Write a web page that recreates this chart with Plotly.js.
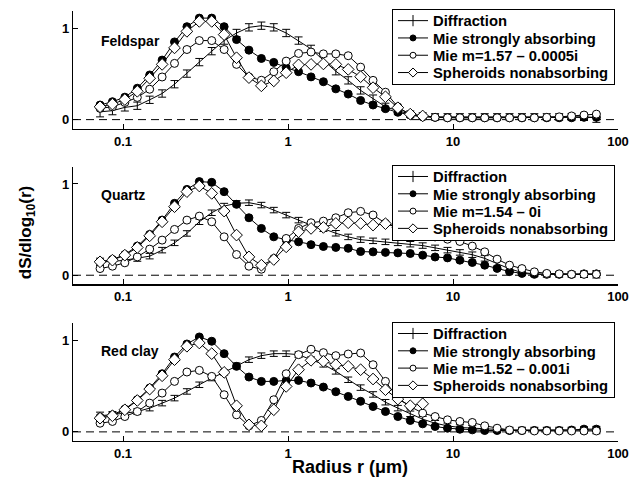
<!DOCTYPE html>
<html>
<head>
<meta charset="utf-8">
<script src="https://cdn.plot.ly/plotly-3.0.1.min.js"></script>
<style>html,body{margin:0;padding:0;background:#fff;}#chart{width:643px;height:488px;}</style>
</head>
<body>
<div id="chart"></div>
<script>
// Radius grid (um)
const radius = [0.0726,0.0863,0.1026,0.1221,0.1451,0.1726,0.2052,0.2440,0.2901,0.3449,
  0.4102,0.4877,0.5799,0.6896,0.8200,0.9750,1.159,1.379,1.639,1.949,
  2.317,2.755,3.277,3.896,4.633,5.508,6.550,7.789,9.262,11.01,
  13.09,15.57,18.51,22.01,26.18,31.12,37.01,44.01,52.33,62.23,73.96];

const seriesNames = ["Diffraction","Mie strongly absorbing","Mie m","Spheroids nonabsorbing"];
const panelNames = ["Feldspar","Quartz","Red clay"];
const mieLabels = ["Mie m=1.57 \u2013 0.0005i","Mie m=1.54 \u2013 0i","Mie m=1.52 \u2013 0.001i"];

// Feldspar
const feldDiff = [0.085,0.098,0.134,0.152,0.217,0.286,0.388,0.504,0.63,0.75,0.866,0.949,1.011,1.029,1.011,0.949,0.866,0.775,0.65,0.53,0.43,0.32,0.23,0.14,0.098,0.06,0.04,0.03,0.03,0.03,0.03,0.03,0.03,0.03,0.03,0.03,0.03,0.03,0.03,0.03,0.02];
const feldDiffErr = [0.055,0.045,0.04,0.04,0.04,0.04,0.04,0.04,0.04,0.04,0.04,0.04,0.04,0.04,0.04,0.04,0.04,0.04,0.04,0.04,0.04,0.04,0.04,0.04,0.04,0.035,0.035,0.035,0.035,0.035,0.035,0.035,0.035,0.035,0.035,0.035,0.035,0.035,0.035,0.04,0.05];
const feldAbs = [0.16,0.196,0.246,0.344,0.489,0.652,0.851,1.018,1.112,1.112,1.018,0.877,0.761,0.67,0.627,0.569,0.525,0.468,0.415,0.337,0.28,0.21,0.16,0.12,0.08,0.05,0.035,0.025,0.02,0.02,0.02,0.02,0.02,0.02,0.02,0.02,0.02,0.02,0.02,0.025,0.025];
const feldMie = [0.123,0.141,0.188,0.243,0.333,0.467,0.616,0.768,0.866,0.866,0.768,0.605,0.467,0.431,0.525,0.641,0.725,0.74,0.72,0.72,0.70,0.575,0.43,0.30,0.14,0.05,0.03,0.025,0.02,0.02,0.02,0.02,0.02,0.02,0.02,0.02,0.025,0.03,0.04,0.05,0.06];
const feldSph = [0.14,0.17,0.22,0.31,0.453,0.605,0.786,0.967,1.076,1.076,0.931,0.678,0.46,0.37,0.424,0.514,0.6,0.605,0.61,0.605,0.55,0.47,0.35,0.25,0.13,0.06,0.04];

// Quartz
const quartzDiff = [0.147,0.15,0.165,0.183,0.209,0.275,0.355,0.458,0.586,0.685,0.758,0.788,0.795,0.769,0.714,0.659,0.604,0.549,0.51,0.46,0.42,0.39,0.377,0.366,0.355,0.34,0.325,0.3,0.275,0.25,0.225,0.185,0.13,0.07,0.03,0.015,0.01,0.01,0.01,0.01,0.01];
const quartzDiffErr = [0.04,0.035,0.03,0.03,0.03,0.03,0.03,0.03,0.03,0.03,0.03,0.03,0.03,0.03,0.03,0.03,0.03,0.03,0.03,0.03,0.03,0.03,0.03,0.03,0.03,0.03,0.03,0.03,0.03,0.03,0.03,0.03,0.03,0.03,0.03,0.03,0.03,0.03,0.03,0.035,0.04];
const quartzAbs = [0.147,0.172,0.227,0.319,0.447,0.604,0.788,0.941,1.026,1.018,0.916,0.777,0.63,0.513,0.421,0.39,0.366,0.335,0.315,0.305,0.295,0.26,0.256,0.25,0.245,0.238,0.22,0.2,0.19,0.165,0.14,0.11,0.075,0.04,0.02,0.01,0.01,0.01,0.01,0.015,0.015];
const quartzMie = [0.073,0.099,0.136,0.201,0.286,0.385,0.502,0.604,0.648,0.586,0.421,0.227,0.099,0.066,0.183,0.403,0.513,0.575,0.593,0.63,0.685,0.70,0.66,0.57,0.53,0.49,0.45,0.42,0.395,0.37,0.319,0.256,0.176,0.11,0.073,0.037,0.02,0.015,0.01,0.01,0.01];
const quartzSph = [0.147,0.165,0.22,0.304,0.432,0.586,0.751,0.916,0.978,0.897,0.703,0.44,0.201,0.11,0.172,0.311,0.476,0.513,0.524,0.568,0.575,0.568,0.55,0.565,0.52,0.48,0.45];

// Red clay
const clayDiff = [0.176,0.187,0.205,0.223,0.26,0.315,0.37,0.443,0.516,0.59,0.652,0.725,0.791,0.835,0.857,0.857,0.846,0.791,0.74,0.663,0.571,0.485,0.41,0.325,0.26,0.198,0.139,0.095,0.066,0.048,0.04,0.03,0.025,0.02,0.02,0.02,0.02,0.02,0.02,0.02,0.02];
const clayDiffErr = [0.04,0.035,0.03,0.03,0.03,0.03,0.03,0.03,0.03,0.03,0.03,0.03,0.03,0.03,0.03,0.03,0.03,0.03,0.03,0.03,0.03,0.03,0.03,0.03,0.03,0.03,0.03,0.03,0.03,0.03,0.03,0.03,0.03,0.03,0.03,0.03,0.03,0.03,0.03,0.035,0.04];
const clayAbs = [0.161,0.187,0.249,0.352,0.48,0.637,0.82,0.963,1.04,0.993,0.857,0.718,0.601,0.553,0.553,0.564,0.564,0.535,0.491,0.44,0.388,0.335,0.278,0.223,0.168,0.125,0.088,0.059,0.04,0.029,0.022,0.015,0.015,0.015,0.015,0.015,0.015,0.015,0.02,0.03,0.03];
const clayMie = [0.095,0.114,0.168,0.223,0.315,0.425,0.553,0.656,0.674,0.608,0.407,0.187,0.066,0.125,0.352,0.637,0.846,0.905,0.868,0.835,0.853,0.864,0.736,0.553,0.37,0.278,0.205,0.168,0.132,0.114,0.103,0.066,0.04,0.02,0.015,0.01,0.01,0.01,0.01,0.01,0.01];
const claySph = [0.15,0.176,0.242,0.344,0.469,0.615,0.791,0.938,0.974,0.857,0.652,0.286,0.077,0.066,0.242,0.498,0.681,0.784,0.773,0.736,0.718,0.681,0.579,0.462,0.359,0.286,0.308];

const panels = [
  {diff: feldDiff, err: feldDiffErr, abs: feldAbs, mie: feldMie, sph: feldSph},
  {diff: quartzDiff, err: quartzDiffErr, abs: quartzAbs, mie: quartzMie, sph: quartzSph},
  {diff: clayDiff, err: clayDiffErr, abs: clayAbs, mie: clayMie, sph: claySph}
];

const FONT = "Liberation Sans, Arial, Helvetica, sans-serif";
const LINE = {color: "black", width: 1};
const styles = [
  {mode: "lines", marker: {symbol: "line-ns-open", size: 9, color: "black", line: {color: "black", width: 1}}},
  {mode: "lines+markers", marker: {symbol: "circle", size: 8, color: "black", line: {color: "black", width: 1}}},
  {mode: "lines+markers", marker: {symbol: "circle", size: 8, color: "white", line: {color: "black", width: 1}}},
  {mode: "lines+markers", marker: {symbol: "diamond", size: 9, color: "white", line: {color: "black", width: 1}}}
];
const legendMarkerSize = [8, 6, 6, 7];

const traces = [];
panels.forEach((p, k) => {
  const sfx = k === 0 ? "" : String(k + 1);
  const xa = "x" + sfx, ya = "y" + sfx;
  const ys = [p.diff, p.abs, p.mie, p.sph];
  ys.forEach((yv, s) => {
    const t = {x: radius.slice(0, yv.length), y: yv, xaxis: xa, yaxis: ya, showlegend: false,
      type: "scatter", mode: styles[s].mode, line: LINE, marker: styles[s].marker};
    if (s === 0) t.error_y = {type: "data", array: p.err, visible: true, color: "black", thickness: 1, width: 4};
    traces.push(t);
  });
  // legend entries (no data)
  for (let s = 0; s < 4; s++) {
    traces.push({x: [null], y: [null], xaxis: xa, yaxis: ya, legend: "legend" + sfx,
      name: s === 2 ? mieLabels[k] : seriesNames[s], type: "scatter", mode: "lines+markers",
      line: LINE, marker: Object.assign({}, styles[s].marker, {size: legendMarkerSize[s]})});
  }
});

const doms = [[0.7262, 1], [0.3643, 0.638], [0, 0.2738]];
const legTops = [1.002, 0.6404, 0.2761];
const layout = {
  width: 643, height: 488,
  margin: {l: 73, r: 25, t: 10, b: 47},
  paper_bgcolor: "white", plot_bgcolor: "white",
  font: {family: FONT, color: "black"},
  showlegend: true,
  shapes: [], annotations: []
};
for (let k = 0; k < 3; k++) {
  const sfx = k === 0 ? "" : String(k + 1);
  layout["xaxis" + sfx] = {
    type: "log", range: [-1.303, 2], anchor: "y" + sfx,
    tickvals: [0.1, 1, 10, 100], ticktext: ["0.1", "1", "10", "100"],
    ticks: "inside", ticklen: 5, tickcolor: "black",
    showline: true, linecolor: "black", linewidth: 1.2, mirror: false,
    showgrid: false, zeroline: false,
    tickfont: {family: FONT, size: 13, weight: "bold", color: "black"}
  };
  layout["yaxis" + sfx] = {
    domain: doms[k], range: [-0.1, 1.19], anchor: "x" + sfx,
    tickvals: [0, 1], ticktext: ["0", "1"],
    ticks: "inside", ticklen: 5, tickcolor: "black",
    showline: true, linecolor: "black", linewidth: 1.2, mirror: false,
    showgrid: false, zeroline: false,
    tickfont: {family: FONT, size: 13, weight: "bold", color: "black"}
  };
  layout["legend" + sfx] = {
    x: 0.9945, xanchor: "right", y: legTops[k], yanchor: "top",
    xref: "paper", yref: "paper",
    bgcolor: "white", bordercolor: "black", borderwidth: 1,
    font: {family: FONT, size: 14.8, weight: "bold", color: "black"},
    itemwidth: 30, tracegroupgap: 0
  };
  layout.shapes.push({type: "line", xref: "x" + sfx + " domain", yref: "y" + sfx,
    x0: 0, x1: 1, y0: 0, y1: 0, line: {color: "black", width: 1, dash: "8px,5px"}, layer: "below"});
  layout.annotations.push({text: panelNames[k], xref: "x" + sfx + " domain", yref: "y" + sfx + " domain",
    x: 0.048, y: [0.746, 0.763, 0.763][k], xanchor: "left", yanchor: "middle", showarrow: false,
    font: {family: FONT, size: 14, weight: "bold", color: "black"}});
}
layout.annotations.push({text: "dS/dlog<sub>10</sub>(r)", xref: "paper", yref: "paper",
  x: -0.083, y: 0.485, xanchor: "center", yanchor: "middle", textangle: -90, showarrow: false,
  font: {family: FONT, size: 17, weight: "bold", color: "black"}});
layout.annotations.push({text: "Radius r (\u03bcm)", xref: "paper", yref: "paper",
  x: 0.508, y: -0.06, xanchor: "center", yanchor: "middle", showarrow: false,
  font: {family: FONT, size: 18, weight: "bold", color: "black"}});

Plotly.newPlot("chart", traces, layout, {displayModeBar: false, staticPlot: true}).then(function (gd) {
  // tighten legend row spacing to match the compact reference legends
  ["legend", "legend2", "legend3"].forEach(function (id) {
    const g = gd.querySelector("g." + id);
    if (!g) return;
    const items = g.querySelectorAll("g.traces");
    const rowGap = 17.3, firstRow = 11.5;
    items.forEach(function (it, j) {
      const m = /translate\(\s*([-\d.]+)[ ,]+([-\d.]+)\s*\)/.exec(it.getAttribute("transform") || "");
      const x0 = m ? parseFloat(m[1]) : 1;
      it.setAttribute("transform", "translate(" + x0 + "," + (firstRow + rowGap * j) + ")");
    });
    const bg = g.querySelector("rect.bg");
    if (bg && items.length) bg.setAttribute("height", String(firstRow * 2 + rowGap * (items.length - 1)));
  });
});
</script>
</body>
</html>
